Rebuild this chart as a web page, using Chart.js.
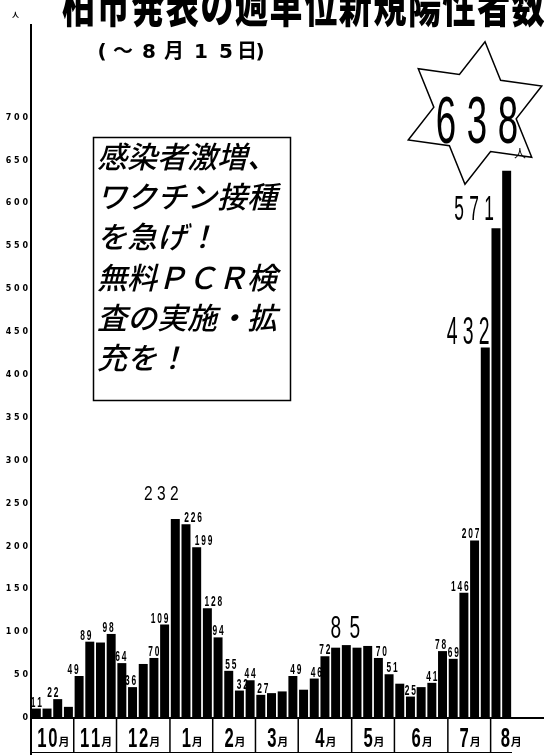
<!DOCTYPE html>
<html>
<head>
<meta charset="utf-8">
<script src="https://cdn.jsdelivr.net/npm/chart.js@4.4.1/dist/chart.umd.min.js"></script>
<style>
  html, body { margin: 0; padding: 0; background: #fff; }
  canvas { display: block; }
</style>
</head>
<body>
<canvas id="chart" width="544" height="755"></canvas>
<script>
// 月ごとの週数と週単位の新規陽性者数（～8月15日）
const months = ["10月", "11月", "12月", "1月", "2月", "3月", "4月", "5月", "6月", "7月", "8月"];
const weeksPerMonth = [4, 4, 5, 4, 4, 4, 5, 4, 5, 4, 2];
const newCases = [
  11, 11, 22, 13,
  49, 89, 88, 98,
  64, 36, 63, 70, 109,
  232, 226, 199, 128,
  94, 55, 32, 44,
  27, 29, 31, 49,
  33, 46, 72, 82, 85,
  82, 84, 70, 51,
  40, 25, 36, 41, 78,
  69, 146, 207, 432,
  571, 638
];
const yTicks = [0, 50, 100, 150, 200, 250, 300, 350, 400, 450, 500, 550, 600, 650, 700];
// 数字を書いてある棒（番号）
const labeledBars = [0, 2, 4, 5, 7, 8, 9, 11, 12, 13, 14, 15, 16, 17, 18, 19, 20, 21, 24, 26, 27, 29, 32, 33, 35, 37, 38, 39, 40, 41, 42, 43];
const starBar = 44;

const title = "柏市発表の週単位新規陽性者数";
const subtitle = ["(", "～", "8", "月", "1", "5", "日", ")"];
const boxLines = ["感染者激増、", "ワクチン接種", "を急げ！", "無料ＰＣＲ検", "査の実施・拡", "充を！"];

const weekNames = [];
months.forEach((m, i) => {
  for (let w = 1; w <= weeksPerMonth[i]; w++) weekNames.push(m + w + "週");
});

// 数字ラベルの見た目（小さい字が標準）
const labelStyle = {
  0: { dx: 0 }, 2: { dx: -5 }, 4: { dx: -6 }, 5: { dx: -4 }, 7: { dx: -3 }, 8: { dx: -1 },
  9: { dx: -2 }, 11: { dx: 0 }, 12: { dx: -5 },
  13: { dx: -14, h: 14, pitch: 13, sx: 0.8, gap: 19, weight: "normal" },
  14: { dx: 7 }, 15: { dx: 7 }, 16: { dx: 6 }, 17: { dx: 0 }, 18: { dx: 2 }, 19: { dx: 3 },
  20: { dx: 0 }, 21: { dx: 2 }, 24: { dx: 3 }, 26: { dx: 2 }, 27: { dx: 0 },
  29: { dx: -1, h: 23, pitch: 19, sx: 0.6, gap: 7, weight: "normal" },
  32: { dx: 3 }, 33: { dx: 3 }, 35: { dx: 0 }, 37: { dx: 0 }, 38: { dx: -2 }, 39: { dx: 0 },
  40: { dx: -4 }, 41: { dx: -4 },
  42: { dx: -17, h: 28, pitch: 16, sx: 0.5, gap: 3, weight: "normal" },
  43: { dx: -22, h: 25, pitch: 15, sx: 0.5, gap: 8, weight: "normal" }
};

function drawDigits(ctx, text, cx, bottom, h, pitch, sx, weight) {
  const size = h / 0.72;
  ctx.save();
  ctx.font = weight + " " + size + "px 'Liberation Sans', Arial, sans-serif";
  ctx.textAlign = "center";
  ctx.textBaseline = "alphabetic";
  ctx.fillStyle = "#000";
  const n = text.length;
  for (let i = 0; i < n; i++) {
    ctx.save();
    ctx.translate(cx + (i - (n - 1) / 2) * pitch, bottom);
    ctx.scale(sx, 1);
    ctx.fillText(text[i], 0, 0);
    ctx.restore();
  }
  ctx.restore();
}

const decor = {
  id: "decor",
  afterDraw(chart) {
    const ctx = chart.ctx;
    const xs = chart.scales.x, ys = chart.scales.y, area = chart.chartArea;
    const y0 = ys.getPixelForValue(0);
    const step = xs.getPixelForValue(1) - xs.getPixelForValue(0);

    ctx.save();
    ctx.strokeStyle = "#000";
    ctx.fillStyle = "#000";

    // 軸
    ctx.lineWidth = 2;
    ctx.beginPath();
    ctx.moveTo(area.left, 24); ctx.lineTo(area.left, 755);
    ctx.moveTo(area.left, y0); ctx.lineTo(chart.width, y0);
    ctx.stroke();
    ctx.lineWidth = 1;
    ctx.beginPath();
    ctx.moveTo(area.left, 752.5); ctx.lineTo(area.right, 752.5);
    ctx.stroke();

    // 月の枠
    let idx = 0;
    months.forEach((m, i) => {
      const start = idx === 0 ? area.left : xs.getPixelForValue(idx) - step / 2;
      idx += weeksPerMonth[i];
      const end = i === months.length - 1 ? chart.width - 14 : xs.getPixelForValue(idx) - step / 2;
      if (i < months.length - 1) {
        ctx.lineWidth = 1.5;
        ctx.beginPath();
        ctx.moveTo(end, y0); ctx.lineTo(end, 753);
        ctx.stroke();
      }
      const num = m.replace("月", "");
      const w = num.length * 11 + 10;
      const cx = (start + end) / 2;
      drawDigits(ctx, num, cx - w / 2 + num.length * 5.5, 747, 20, 11, 0.6, "bold");
      ctx.font = "bold 11px 'Noto Sans CJK JP'";
      ctx.textAlign = "left";
      ctx.fillText("月", cx - w / 2 + num.length * 11, 746);
    });

    // 棒の数字
    labeledBars.forEach(i => {
      const s = Object.assign({ dx: 0, h: 11, pitch: 6.5, sx: 0.55, gap: 2, weight: "bold" }, labelStyle[i]);
      const x = xs.getPixelForValue(i) + s.dx;
      const top = ys.getPixelForValue(newCases[i]);
      drawDigits(ctx, String(newCases[i]), x, top - s.gap, s.h, s.pitch, s.sx, s.weight);
    });

    // 星と 638人
    const cx = 475, cy = 113, R = 72, r = R / Math.sqrt(3), rot = 8 * Math.PI / 180;
    ctx.lineWidth = 1.5;
    ctx.beginPath();
    for (let k = 0; k < 12; k++) {
      const a = -Math.PI / 2 + rot + k * Math.PI / 6;
      const rr = k % 2 === 0 ? R : r;
      const px = cx + rr * Math.cos(a), py = cy + rr * Math.sin(a);
      if (k === 0) ctx.moveTo(px, py); else ctx.lineTo(px, py);
    }
    ctx.closePath();
    ctx.stroke();
    drawDigits(ctx, String(newCases[starBar]), 477, 143, 48, 31, 0.55, "normal");
    ctx.font = "12px 'Noto Sans CJK JP'";
    ctx.textAlign = "left";
    ctx.fillText("人", 514, 158);

    // タイトル（上が切れている）
    ctx.font = "900 33px 'Noto Sans CJK JP'";
    ctx.textAlign = "left";
    ctx.textBaseline = "alphabetic";
    [...title].forEach((ch, i) => {
      ctx.save();
      ctx.translate(62 + i * 34.6, 22);
      ctx.scale(1, 1.4);
      ctx.fillText(ch, 0, 0);
      ctx.restore();
    });
    ctx.font = "bold 7px 'Noto Sans CJK JP'";
    ctx.fillText("人", 12, 17);

    // (～8月15日)
    const subX = [102, 123, 149, 174, 201, 226, 247, 260];
    ctx.font = "bold 20px 'DejaVu Sans', 'Noto Sans CJK JP'";
    ctx.textAlign = "center";
    subtitle.forEach((ch, i) => ctx.fillText(ch, subX[i], 58));

    // 囲み
    ctx.fillStyle = "#fff";
    ctx.fillRect(93.5, 137.5, 197, 263);
    ctx.lineWidth = 1.5;
    ctx.strokeRect(93.5, 137.5, 197, 263);
    ctx.fillStyle = "#000";
    ctx.font = "italic 500 30px 'Noto Sans CJK JP'";
    ctx.textAlign = "left";
    boxLines.forEach((line, i) => ctx.fillText(line, 97, 168 + i * 40.2));

    ctx.restore();
  }
};

new Chart(document.getElementById("chart"), {
  type: "bar",
  data: {
    labels: weekNames,
    datasets: [{
      data: newCases,
      backgroundColor: "#000",
      borderWidth: 0,
      barPercentage: 0.84,
      categoryPercentage: 1
    }]
  },
  options: {
    responsive: false,
    animation: false,
    devicePixelRatio: 1,
    layout: { padding: { top: 25, right: 32, left: 0, bottom: 0 } },
    plugins: { legend: { display: false }, tooltip: { enabled: false } },
    scales: {
      x: {
        grid: { display: false },
        border: { display: false },
        ticks: { display: false },
        afterFit: a => { a.height = 37; }
      },
      y: {
        min: 0,
        max: 808,
        grid: { display: false, drawTicks: false },
        border: { display: false },
        afterBuildTicks: a => { a.ticks = yTicks.map(v => ({ value: v })); },
        ticks: {
          color: "#000",
          padding: 3,
          font: { family: "DejaVu Sans", size: 8, weight: "bold" },
          callback: v => String(v).split("").join(" ")
        },
        afterFit: a => { a.width = 31; }
      }
    }
  },
  plugins: [decor]
});
</script>
</body>
</html>
